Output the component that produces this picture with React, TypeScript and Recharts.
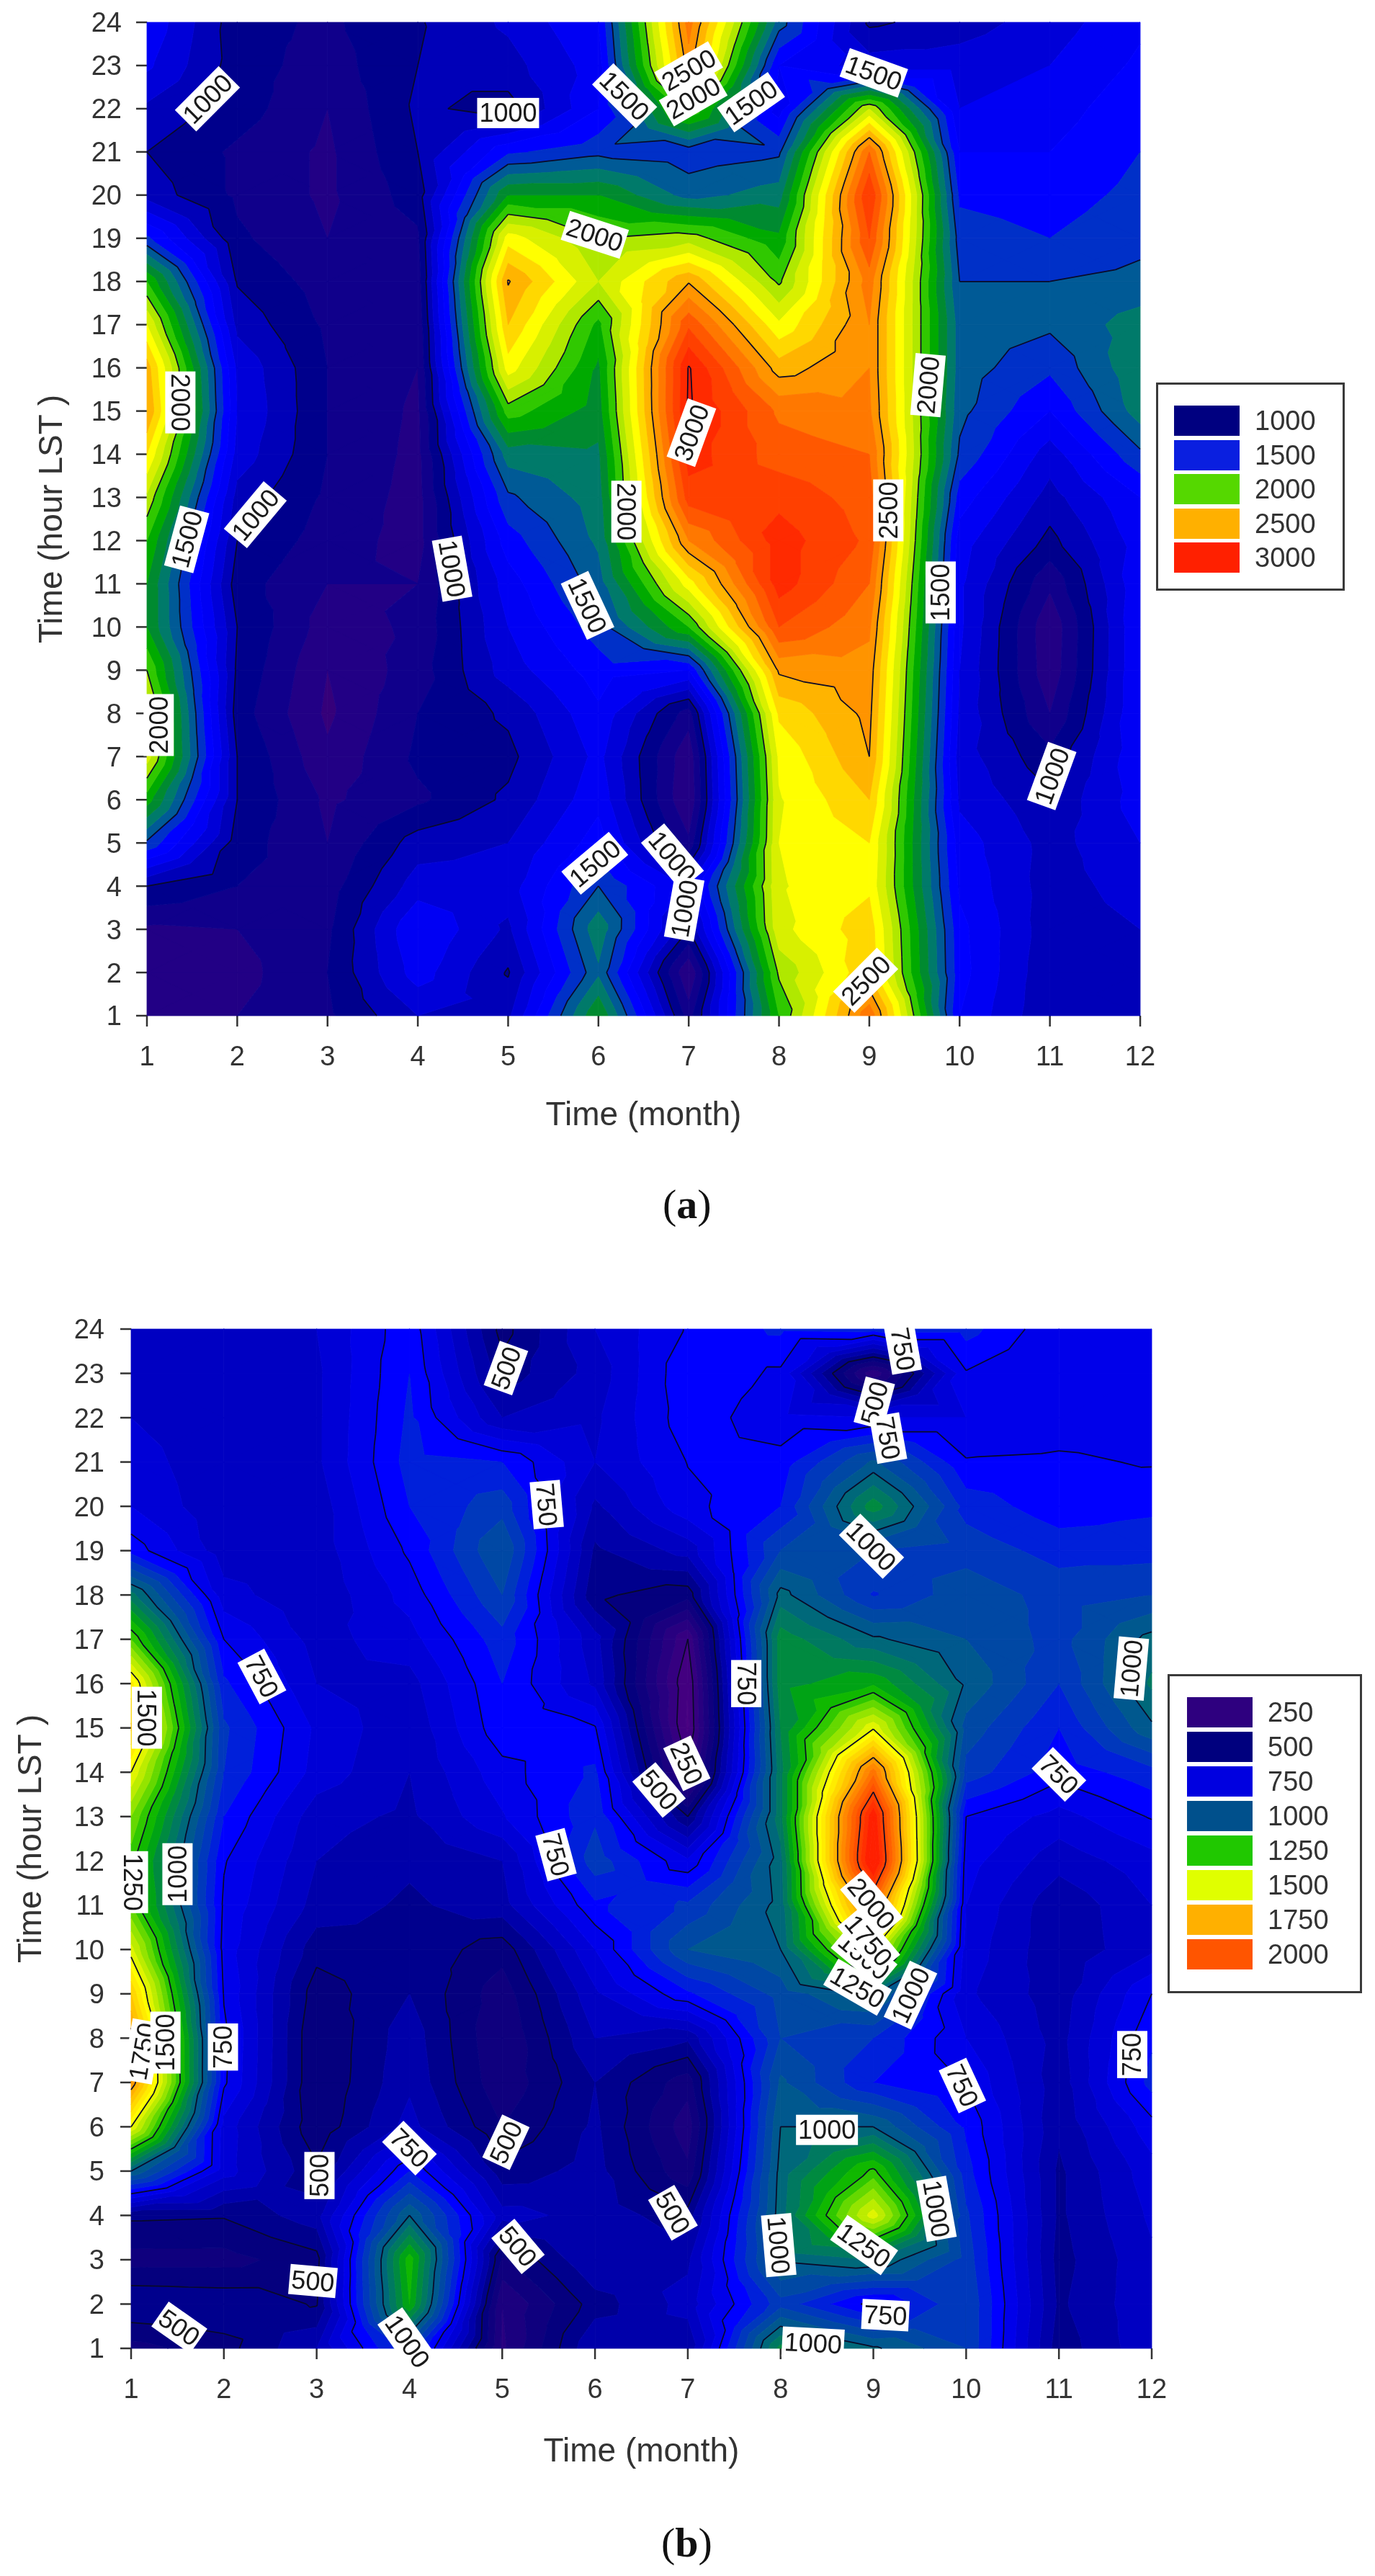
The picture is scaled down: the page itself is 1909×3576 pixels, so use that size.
import { ScatterChart, Scatter, XAxis, YAxis, Label } from 'recharts';

const MONTHS = [1, 2, 3, 4, 5, 6, 7, 8, 9, 10, 11, 12];
const HOURS = [1, 2, 3, 4, 5, 6, 7, 8, 9, 10, 11, 12, 13, 14, 15, 16, 17, 18, 19, 20, 21, 22, 23, 24];

// rows run from hour 24 down to hour 1, columns are months 1..12
const fieldA = [
  [1280, 940, 880, 990, 1120, 1300, 2650, 1550, 980, 1050, 1150, 1280],
  [1220, 950, 850, 1000, 1060, 1250, 2550, 1300, 1150, 1150, 1200, 1320],
  [1080, 950, 800, 1020, 960, 1300, 2000, 1250, 2100, 1200, 1250, 1370],
  [1000, 880, 780, 1000, 1380, 1470, 1440, 1480, 2700, 1300, 1300, 1400],
  [1060, 880, 780, 950, 1800, 1800, 1560, 1650, 2900, 1380, 1350, 1430],
  [1420, 920, 800, 880, 2250, 2000, 2050, 1820, 2800, 1450, 1400, 1470],
  [1900, 990, 850, 850, 2510, 2100, 2490, 1980, 2650, 1500, 1500, 1530],
  [2200, 1070, 880, 820, 2400, 1870, 2780, 2220, 2600, 1550, 1520, 1650],
  [2450, 1180, 900, 800, 2250, 1780, 3010, 2450, 2600, 1550, 1420, 1680],
  [2500, 1200, 900, 780, 1950, 1750, 3020, 2680, 2620, 1530, 1300, 1650],
  [2300, 1160, 900, 770, 1650, 1680, 2950, 2750, 2700, 1480, 1150, 1480],
  [2080, 1060, 880, 760, 1480, 1650, 2850, 2870, 2750, 1350, 1060, 1300],
  [1900, 1000, 850, 760, 1350, 1620, 2600, 2950, 2780, 1250, 970, 1250],
  [1800, 945, 800, 800, 1250, 1550, 2250, 2950, 2700, 1220, 820, 1280],
  [1800, 1000, 750, 820, 1200, 1450, 1900, 2800, 2620, 1220, 720, 1300],
  [2000, 980, 700, 850, 1150, 1350, 1300, 2520, 2560, 1200, 730, 1300],
  [2150, 950, 680, 900, 1020, 1280, 850, 2320, 2530, 1180, 800, 1300],
  [2150, 1000, 720, 920, 970, 1230, 720, 2220, 2500, 1150, 930, 1280],
  [1850, 1000, 780, 880, 1020, 1270, 700, 2190, 2400, 1180, 1020, 1250],
  [1480, 950, 800, 1050, 1100, 1350, 820, 2200, 2300, 1250, 1060, 1200],
  [1000, 900, 850, 1150, 1150, 1500, 1180, 2190, 2280, 1280, 1050, 1150],
  [780, 800, 880, 1300, 1080, 1670, 1000, 2170, 2360, 1330, 1040, 1100],
  [760, 760, 900, 1250, 990, 1580, 700, 2020, 2380, 1340, 1020, 1070],
  [800, 800, 880, 1100, 1080, 1800, 850, 1900, 2680, 1300, 1010, 1040],
];

const fieldB = [
  [620, 620, 650, 785, 480, 650, 755, 810, 820, 820, 710, 700],
  [640, 620, 640, 800, 520, 620, 790, 740, 310, 745, 700, 710],
  [650, 620, 640, 810, 600, 640, 780, 715, 700, 700, 720, 720],
  [670, 620, 640, 820, 800, 650, 752, 770, 960, 755, 760, 745],
  [700, 610, 620, 800, 880, 590, 735, 800, 1130, 830, 770, 790],
  [780, 620, 620, 760, 950, 540, 620, 900, 900, 880, 830, 830],
  [1070, 670, 610, 720, 900, 510, 470, 1020, 845, 930, 880, 900],
  [1300, 750, 630, 680, 830, 620, 250, 1130, 1010, 950, 880, 1020],
  [1570, 810, 650, 630, 800, 640, 200, 1130, 1190, 990, 850, 1060],
  [1660, 860, 690, 610, 785, 755, 190, 1100, 1490, 930, 800, 990],
  [1500, 850, 680, 600, 730, 810, 260, 1080, 1880, 880, 770, 830],
  [1350, 800, 620, 590, 695, 840, 500, 1080, 2150, 750, 680, 755],
  [1270, 755, 600, 560, 600, 880, 710, 1030, 2200, 720, 620, 680],
  [1300, 740, 580, 540, 580, 790, 860, 1020, 1900, 700, 560, 650],
  [1470, 730, 520, 540, 470, 700, 950, 1000, 1500, 680, 560, 640],
  [1650, 745, 470, 550, 420, 640, 790, 920, 1020, 660, 570, 750],
  [1780, 765, 450, 580, 400, 600, 560, 900, 850, 700, 580, 790],
  [1800, 760, 450, 590, 410, 550, 420, 960, 800, 745, 570, 820],
  [1500, 680, 460, 620, 450, 560, 370, 1000, 1000, 790, 560, 730],
  [1000, 675, 510, 800, 520, 570, 410, 1020, 1265, 820, 540, 680],
  [510, 505, 580, 1000, 620, 580, 520, 1030, 1480, 860, 540, 660],
  [430, 430, 480, 1230, 440, 600, 590, 1010, 1050, 880, 530, 640],
  [550, 540, 495, 1200, 350, 525, 620, 880, 730, 900, 540, 640],
  [430, 480, 600, 900, 340, 600, 560, 1120, 1010, 900, 520, 640],
];

const linesA = [1000, 1500, 2000, 2500, 3000];
const linesB = [250, 500, 750, 1000, 1250, 1500, 1750, 2000];

// month, hour, text, angle of the inline contour labels
const labelsA: [number, number, string, number][] = [
  [1.67, 22.23, '1000', -45],
  [5.0, 21.9, '1000', 0],
  [6.29, 22.3, '1500', 45],
  [7.0, 22.9, '2500', -30],
  [7.05, 22.25, '2000', -30],
  [7.69, 22.15, '1500', -35],
  [9.05, 22.83, '1500', 20],
  [5.96, 19.08, '2000', 18],
  [1.37, 15.2, '2000', 90],
  [1.44, 12.03, '1500', -75],
  [2.2, 12.6, '1000', -50],
  [4.38, 11.35, '1000', 80],
  [5.88, 10.5, '1500', 65],
  [7.03, 14.5, '3000', -70],
  [6.31, 12.67, '2000', 90],
  [1.13, 7.73, '2000', -90],
  [9.21, 12.7, '2500', -90],
  [9.65, 15.6, '2000', -85],
  [9.79, 10.8, '1500', -90],
  [11.02, 6.55, '1000', -70],
  [5.96, 4.53, '1500', -40],
  [6.82, 4.68, '1000', 50],
  [6.95, 3.48, '1000', -80],
  [8.96, 1.82, '2500', -45],
];

const labelsB: [number, number, string, number][] = [
  [5.04, 23.12, '500', -70],
  [9.32, 23.55, '750', 80],
  [9.01, 22.33, '500', -75],
  [9.16, 21.54, '750', 80],
  [5.48, 20.04, '750', 85],
  [2.41, 16.16, '750', 62],
  [1.17, 15.23, '1500', 90],
  [6.99, 14.2, '250', 65],
  [6.69, 13.6, '500', 50],
  [5.58, 12.14, '750', 75],
  [1.5, 11.7, '1000', -90],
  [1.02, 11.52, '1250', 90],
  [8.98, 19.1, '1000', 45],
  [7.63, 16.0, '750', 90],
  [11.78, 16.34, '1000', -85],
  [11.0, 13.95, '750', 45],
  [8.83, 9.15, '1250', 30],
  [8.9, 9.85, '1500', 40],
  [8.95, 10.2, '1750', 50],
  [8.98, 11.04, '2000', 50],
  [9.4, 8.97, '1000', -65],
  [1.99, 7.8, '750', -90],
  [1.12, 7.7, '1750', -80],
  [1.37, 7.9, '1500', -90],
  [3.03, 4.9, '500', -90],
  [4.0, 5.52, '750', 45],
  [5.04, 5.65, '500', -65],
  [6.84, 4.06, '500', 60],
  [5.17, 3.3, '500', 50],
  [2.96, 2.52, '500', 5],
  [1.52, 1.47, '500', 35],
  [3.98, 1.16, '1000', 55],
  [8.5, 5.93, '1000', 0],
  [9.96, 6.93, '750', 65],
  [9.68, 4.15, '1000', 80],
  [11.79, 7.63, '750', -90],
  [8.9, 3.33, '1250', 35],
  [7.98, 3.33, '1000', 85],
  [9.13, 1.75, '750', 3],
  [8.35, 1.12, '1000', 3],
];

const rampValuesA = [650, 800, 950, 1050, 1150, 1250, 1350, 1450, 1550, 1650, 1750, 1850, 1950, 2050, 2150, 2250, 2350, 2450, 2550, 2650, 2750, 2850, 2950, 3050];
const rampColorsA = ['#35007a', '#18008a', '#00008c', '#0000b8', '#0000d8', '#0000f4', '#0000ff', '#0030c8', '#005a96', '#007a6a', '#008a30', '#00aa00', '#30c800', '#b0e800', '#d8f000', '#ffff00', '#ffd800', '#ffb400', '#ff9400', '#ff7800', '#ff5800', '#ff4000', '#ff2a00', '#ff1800'];
const rampValuesB = [200, 300, 400, 500, 600, 700, 775, 850, 950, 1050, 1125, 1200, 1275, 1350, 1450, 1525, 1625, 1725, 1825, 1925, 2025, 2125];
const rampColorsB = ['#4a0080', '#2e0080', '#14007e', '#00007e', '#0000b8', '#0000e0', '#0000ff', '#0030c8', '#005098', '#007070', '#008a40', '#00b000', '#30c800', '#80e000', '#d0f000', '#ffff00', '#ffd800', '#ffb000', '#ff8800', '#ff6000', '#ff4000', '#ff2000'];

const legendA: [string, string][] = [['1000', '#000080'], ['1500', '#0a1fe0'], ['2000', '#55d800'], ['2500', '#ffb000'], ['3000', '#ff2000']];
const legendB: [string, string][] = [['250', '#2e007f'], ['500', '#00007e'], ['750', '#0000e0'], ['1000', '#00508c'], ['1250', '#20c800'], ['1500', '#e0ff00'], ['1750', '#ffb000'], ['2000', '#ff5500']];

const FONT = '"Liberation Sans", Arial, sans-serif';
const TEXT = '#333333';

type V = [number, number, number];

const hex = (s: string) => [1, 3, 5].map((i) => parseInt(s.slice(i, i + 2), 16));

function rampColor(v: number, values: number[], colors: string[]) {
  if (v <= values[0]) return colors[0];
  for (let i = 1; i < values.length; i++) {
    if (v <= values[i]) {
      const t = (v - values[i - 1]) / (values[i] - values[i - 1]);
      const a = hex(colors[i - 1]);
      const b = hex(colors[i]);
      return `rgb(${a.map((c, k) => Math.round(c + (b[k] - c) * t)).join(',')})`;
    }
  }
  return colors[colors.length - 1];
}

function clipPoly(poly: V[], level: number, above: boolean) {
  const out: V[] = [];
  poly.forEach((p, i) => {
    const q = poly[(i + 1) % poly.length];
    const pIn = above ? p[2] >= level : p[2] <= level;
    const qIn = above ? q[2] >= level : q[2] <= level;
    if (pIn) out.push(p);
    if (pIn !== qIn) {
      const t = (level - p[2]) / (q[2] - p[2]);
      out.push([p[0] + (q[0] - p[0]) * t, p[1] + (q[1] - p[1]) * t, level]);
    }
  });
  return out;
}

// the four triangles of one grid cell, cx/cy is the cell's lower left node
function cellTriangles(cx: number, cy: number, w: number, h: number, q: number[]) {
  const bl: V = [cx, cy, q[0]];
  const br: V = [cx + w, cy, q[1]];
  const tr: V = [cx + w, cy - h, q[2]];
  const tl: V = [cx, cy - h, q[3]];
  const mid: V = [cx + w / 2, cy - h / 2, (q[0] + q[1] + q[2] + q[3]) / 4];
  return [[bl, br, mid], [br, tr, mid], [tr, tl, mid], [tl, bl, mid]] as V[][];
}

function makeCells(field: number[][]) {
  const cells: { x: number; y: number; q: number[] }[] = [];
  MONTHS.slice(0, -1).forEach((m, c) => {
    HOURS.slice(0, -1).forEach((hr) => {
      const row = 24 - hr;
      cells.push({ x: m, y: hr, q: [field[row][c], field[row][c + 1], field[row - 1][c + 1], field[row - 1][c]] });
    });
  });
  return cells;
}

function CellFill({ cx, cy, payload, w, h, step, values, colors }: any) {
  const tris = cellTriangles(cx, cy, w, h, payload.q);
  const lo = Math.floor(Math.min(...payload.q) / step) * step;
  const hi = Math.ceil(Math.max(...payload.q) / step) * step;
  const paths = [];
  for (let b = lo; b < hi; b += step) {
    let d = '';
    tris.forEach((t) => {
      const poly = clipPoly(clipPoly(t, b, true), b + step, false);
      if (poly.length >= 3) d += 'M' + poly.map((p) => `${p[0].toFixed(1)},${p[1].toFixed(1)}`).join('L') + 'Z';
    });
    if (d) {
      const col = rampColor(b + step / 2, values, colors);
      paths.push(<path key={b} d={d} fill={col} stroke={col} strokeWidth={0.8} />);
    }
  }
  return <g>{paths}</g>;
}

function CellLines({ cx, cy, payload, w, h, levels }: any) {
  const tris = cellTriangles(cx, cy, w, h, payload.q);
  let d = '';
  levels.forEach((level: number) => {
    const lv = level + 0.01;
    tris.forEach((t) => {
      const pts: number[][] = [];
      t.forEach((p, i) => {
        const q = t[(i + 1) % 3];
        if (p[2] >= lv !== q[2] >= lv) {
          const k = (lv - p[2]) / (q[2] - p[2]);
          pts.push([p[0] + (q[0] - p[0]) * k, p[1] + (q[1] - p[1]) * k]);
        }
      });
      if (pts.length === 2) d += `M${pts[0][0].toFixed(1)},${pts[0][1].toFixed(1)}L${pts[1][0].toFixed(1)},${pts[1][1].toFixed(1)}`;
    });
  });
  return d ? <path d={d} fill="none" stroke="#0a0a28" strokeWidth={1.7} /> : <g />;
}

function InlineLabel({ cx, cy, payload }: any) {
  const w = payload.text.length * 20.5 + 4;
  return (
    <g transform={`translate(${cx},${cy}) rotate(${payload.angle})`}>
      <rect x={-w / 2} y={-21} width={w} height={42} fill="#ffffff" />
      <text textAnchor="middle" dominantBaseline="central" fontFamily={FONT} fontSize={36} fill="#1a1a1a">
        {payload.text}
      </text>
    </g>
  );
}

type PanelProps = {
  top: number;
  height: number;
  plotLeft: number;
  plotTop: number;
  plotW: number;
  plotH: number;
  field: number[][];
  lines: number[];
  labels: [number, number, string, number][];
  step: number;
  values: number[];
  colors: string[];
  yMargin: number;
  xTitleOffset: number;
  yTitleOffset: number;
};

function Panel(p: PanelProps) {
  const cells = makeCells(p.field);
  const w = p.plotW / 11;
  const h = p.plotH / 23;
  const labelRows = p.labels.map(([x, y, text, angle]) => ({ x, y, text, angle }));
  const axisH = p.height - p.plotTop - p.plotH;
  return (
    <div style={{ position: 'absolute', left: 0, top: p.top }}>
      <ScatterChart
        width={1909}
        height={p.height}
        margin={{ left: 0, right: 1909 - p.plotLeft - p.plotW, top: p.plotTop, bottom: 0 }}
      >
        <XAxis
          type="number"
          dataKey="x"
          domain={[1, 12]}
          ticks={MONTHS}
          interval={0}
          height={axisH}
          axisLine={false}
          tickSize={15}
          tickMargin={27}
          tickLine={{ stroke: TEXT, strokeWidth: 2.5 }}
          tick={{ fontSize: 38, fill: TEXT, fontFamily: FONT }}
        >
          <Label
            value="Time (month)"
            position="insideBottom"
            offset={axisH - p.xTitleOffset - 16}
            style={{ fontSize: 46, fill: TEXT, fontFamily: FONT }}
          />
        </XAxis>
        <YAxis
          type="number"
          dataKey="y"
          domain={[1, 24]}
          ticks={HOURS}
          interval={0}
          width={p.plotLeft}
          axisLine={false}
          tickSize={15}
          tickMargin={p.yMargin}
          tickLine={{ stroke: TEXT, strokeWidth: 2.5 }}
          tick={{ fontSize: 38, fill: TEXT, fontFamily: FONT }}
        >
          <Label
            value="Time (hour LST )"
            angle={-90}
            position="insideLeft"
            offset={p.yTitleOffset}
            style={{ fontSize: 46, fill: TEXT, fontFamily: FONT, textAnchor: 'middle' }}
          />
        </YAxis>
        <Scatter
          data={cells}
          isAnimationActive={false}
          shape={(s: any) => <CellFill {...s} w={w} h={h} step={p.step} values={p.values} colors={p.colors} />}
        />
        <Scatter
          data={cells}
          isAnimationActive={false}
          shape={(s: any) => <CellLines {...s} w={w} h={h} levels={p.lines} />}
        />
        <Scatter data={labelRows} isAnimationActive={false} shape={(s: any) => <InlineLabel {...s} />} />
      </ScatterChart>
    </div>
  );
}

function ColorKey({ left, top, width, height, rows, swatchLeft, pitch }: any) {
  return (
    <div
      style={{
        position: 'absolute',
        left,
        top,
        width,
        height,
        boxSizing: 'border-box',
        border: '3px solid #3a3a3a',
        background: '#ffffff',
      }}
    >
      {rows.map(([text, color]: [string, string], i: number) => (
        <div key={text}>
          <div
            style={{
              position: 'absolute',
              left: swatchLeft,
              top: 29 + i * pitch,
              width: 91,
              height: 42,
              background: color,
            }}
          />
          <div
            style={{
              position: 'absolute',
              left: swatchLeft + 112,
              top: 28 + i * pitch,
              height: 44,
              lineHeight: '44px',
              fontFamily: FONT,
              fontSize: 38,
              color: TEXT,
            }}
          >
            {text}
          </div>
        </div>
      ))}
    </div>
  );
}

function Caption({ left, top, letter }: { left: number; top: number; letter: string }) {
  return (
    <div
      style={{
        position: 'absolute',
        left,
        top,
        fontFamily: '"Liberation Serif", serif',
        fontSize: 58,
        lineHeight: '64px',
        color: '#111',
      }}
    >
      (<b>{letter}</b>)
    </div>
  );
}

export default function App() {
  return (
    <div
      style={{
        position: 'absolute',
        left: 0,
        top: 0,
        width: 1909,
        height: 3576,
        background: '#fff',
        overflow: 'hidden',
        filter: 'blur(0.7px)',
      }}
    >
      <Panel
        top={0}
        height={1600}
        plotLeft={204}
        plotTop={31}
        plotW={1379}
        plotH={1379}
        field={fieldA}
        lines={linesA}
        labels={labelsA}
        step={100}
        values={rampValuesA}
        colors={rampColorsA}
        yMargin={20}
        xTitleOffset={136}
        yTitleOffset={70}
      />
      <Panel
        top={1800}
        height={1650}
        plotLeft={182}
        plotTop={45}
        plotW={1417}
        plotH={1415}
        field={fieldB}
        lines={linesB}
        labels={labelsB}
        step={50}
        values={rampValuesB}
        colors={rampColorsB}
        yMargin={22}
        xTitleOffset={141}
        yTitleOffset={41}
      />
      <ColorKey left={1605} top={531} width={262} height={289} rows={legendA} swatchLeft={22} pitch={47.5} />
      <ColorKey left={1621} top={2324} width={270} height={443} rows={legendB} swatchLeft={24} pitch={48} />
      <Caption left={920} top={1640} letter="a" />
      <Caption left={918} top={3498} letter="b" />
    </div>
  );
}
